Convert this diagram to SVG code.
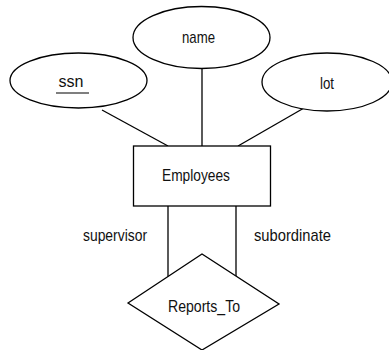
<svg xmlns="http://www.w3.org/2000/svg" width="389" height="350" viewBox="0 0 389 350">
<style>
.s{fill:#fff;stroke:#000;stroke-width:1.3}
.c line{stroke:#000;stroke-width:1.3}
text{font-family:"Liberation Sans",Arial,sans-serif;font-size:17px;fill:#111;text-anchor:middle}
</style>
<rect width="389" height="350" fill="#fff"/>
<g class="c" id="connectors">
<line x1="102" y1="110" x2="168" y2="146"/>
<line x1="202" y1="68" x2="202" y2="146"/>
<line x1="304" y1="108" x2="238" y2="146"/>
<line x1="168" y1="206" x2="168" y2="276.5"/>
<line x1="236" y1="206" x2="236" y2="276"/>
</g>
<g id="name">
<ellipse class="s" cx="201.5" cy="37.5" rx="68.5" ry="31"/>
<text x="198.5" y="43" textLength="33" lengthAdjust="spacingAndGlyphs">name</text>
</g>
<g id="ssn">
<ellipse class="s" cx="78.5" cy="80.5" rx="68.5" ry="27.5"/>
<text x="71" y="86.5" textLength="25" lengthAdjust="spacingAndGlyphs">ssn</text>
<line x1="56" y1="93" x2="89" y2="93" stroke="#000" stroke-width="1.2"/>
</g>
<g id="lot">
<ellipse class="s" cx="327" cy="82" rx="65" ry="29"/>
<text x="327" y="89" textLength="14" lengthAdjust="spacingAndGlyphs">lot</text>
</g>
<g id="employees">
<rect class="s" x="133.5" y="146" width="137" height="60"/>
<text x="196" y="181" textLength="68" lengthAdjust="spacingAndGlyphs">Employees</text>
</g>
<g id="reports_to">
<polygon class="s" points="128,303 202,254 279,304 202,350"/>
<text x="204" y="312" textLength="72" lengthAdjust="spacingAndGlyphs">Reports_To</text>
</g>
<text x="115" y="241" textLength="64" lengthAdjust="spacingAndGlyphs">supervisor</text>
<text x="292.5" y="241" textLength="77" lengthAdjust="spacingAndGlyphs">subordinate</text>
</svg>
